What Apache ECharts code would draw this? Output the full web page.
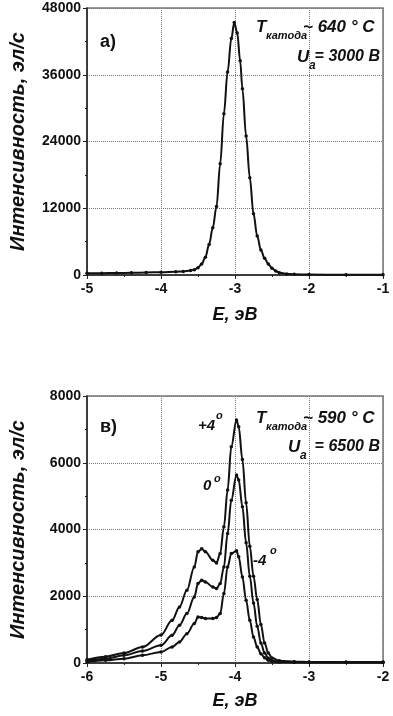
<!DOCTYPE html>
<html>
<head>
<meta charset="utf-8">
<script src="https://cdn.jsdelivr.net/npm/echarts@6/dist/echarts.min.js"></script>
<style>
  html, body { margin: 0; padding: 0; background: #fff; }
  #chart { width: 393px; height: 716px; }
</style>
</head>
<body>
<div id="chart"></div>
<script>
// panel a) - single peak
var topE = [-5, -4.8, -4.6, -4.4, -4.2, -4, -3.8, -3.7, -3.6, -3.55, -3.5, -3.45, -3.4, -3.35, -3.3,
    -3.25, -3.2, -3.15, -3.1, -3.05, -3.01, -2.97, -2.93, -2.9, -2.85, -2.8, -2.75, -2.7, -2.65,
    -2.6, -2.55, -2.5, -2.45, -2.4, -2.3, -2.2, -2, -1.5, -1];
var topI = [300, 330, 360, 400, 450, 500, 580, 650, 800, 950, 1300, 2000, 3200, 5500, 8500,
    12300, 20000, 29000, 36500, 42500, 45400, 43500, 38500, 33500, 25000, 17500, 11000, 7000, 4500,
    3000, 2000, 1200, 700, 400, 200, 120, 80, 50, 40];

// panel в) - three angles
var botE = [-6, -5.75, -5.5, -5.25, -5, -4.85, -4.75, -4.65, -4.55, -4.5, -4.45, -4.4, -4.3, -4.25,
    -4.2, -4.15, -4.1, -4.05, -3.98, -3.95, -3.9, -3.85, -3.8, -3.75, -3.7, -3.65, -3.6, -3.55,
    -3.5, -3.4, -3.2, -3.0, -2.5, -2.0];
var botP4 = [100, 190, 300, 480, 840, 1280, 1680, 2180, 2880, 3330, 3420, 3330, 3080, 3000,
    3280, 4080, 5180, 6480, 7280, 7080, 6100, 4800, 3500, 2600, 1900, 1150, 600, 300,
    150, 70, 40, 30, 25, 20];
var bot0 = [60, 130, 230, 360, 530, 830, 1130, 1480, 1980, 2380, 2480, 2430, 2280, 2230,
    2380, 2880, 3880, 4880, 5630, 5480, 4680, 3600, 2600, 1800, 1100, 600, 300, 140,
    70, 40, 30, 25, 20, 20];
var botM4 = [30, 80, 130, 230, 330, 480, 630, 880, 1180, 1380, 1360, 1330, 1330, 1360,
    1480, 2080, 2880, 3280, 3360, 3180, 2580, 1880, 1280, 780, 480, 280, 160, 80,
    50, 30, 25, 20, 20, 20];

var topYTicks = [0, 48000, 12000];
var botYTicks = [0, 8000, 2000];
var topXRange = [-5, -1];
var botXRange = [-6, -2];

var FONT = '"Liberation Sans", Arial, sans-serif';

function pairs(xs, ys) {
    return xs.map(function (x, i) { return [x, ys[i]]; });
}

function xAxisOf(idx, range) {
    return {
        type: 'value', gridIndex: idx, min: range[0], max: range[1], interval: 1,
        name: 'E, эВ', nameLocation: 'middle', nameGap: idx === 0 ? 31 : 29,
        nameTextStyle: {fontFamily: FONT, fontSize: 18, fontWeight: 'bold', fontStyle: 'italic', color: '#111'},
        axisLine: {onZero: false, lineStyle: {color: '#222', width: 1.5}},
        axisTick: {show: true, inside: false, length: 4, lineStyle: {color: '#222'}},
        minorTick: {show: true, splitNumber: 2, length: 2, lineStyle: {color: '#222'}},
        axisLabel: {margin: 7, fontFamily: FONT, fontSize: 14, fontWeight: 'bold', color: '#111',
            formatter: function (v) { return String(v); }},
        splitLine: {show: true, lineStyle: {type: 'dotted', color: '#777', width: 1}}
    };
}

function yAxisOf(idx, t) {
    return {
        type: 'value', gridIndex: idx, min: t[0], max: t[1], interval: t[2],
        name: 'Интенсивность, эл/с', nameLocation: 'middle', nameGap: 59, nameRotate: 90,
        nameTextStyle: {fontFamily: FONT, fontSize: 20, fontWeight: 'bold', fontStyle: 'italic', color: '#111'},
        axisLine: {show: true, lineStyle: {color: '#222', width: 1.5}},
        axisTick: {show: true, inside: false, length: 4, lineStyle: {color: '#222'}},
        minorTick: {show: true, splitNumber: 2, length: 2, lineStyle: {color: '#222'}},
        axisLabel: {margin: 6, fontFamily: FONT, fontSize: 14, fontWeight: 'bold', color: '#111',
            formatter: function (v) { return String(v); }},
        splitLine: {show: true, lineStyle: {type: 'dotted', color: '#777', width: 1}}
    };
}

function line(idx, data) {
    return {
        type: 'line', xAxisIndex: idx, yAxisIndex: idx, data: data,
        smooth: 0.35, smoothMonotone: 'x',
        symbol: 'circle', symbolSize: 3.5, showSymbol: true,
        lineStyle: {color: '#111', width: 2},
        itemStyle: {color: '#111'},
        animation: false
    };
}

function txt(pos, text, size, italic, bold) {
    var o = {type: 'text', top: pos.top, style: {
        text: text, fill: '#111',
        font: (italic ? 'italic ' : '') + (bold === false ? '' : 'bold ') + size + 'px ' + FONT
    }};
    if (pos.left != null) o.left = pos.left;
    if (pos.right != null) o.right = pos.right;
    return o;
}

var chart = echarts.init(document.getElementById('chart'));
chart.setOption({
    animation: false,
    backgroundColor: '#fff',
    grid: [
        {left: 77, right: 10, top: 8, height: 267, show: true, borderColor: '#777', borderWidth: 1.5},
        {left: 77, right: 10, top: 396, height: 267, show: true, borderColor: '#777', borderWidth: 1.5}
    ],
    xAxis: [xAxisOf(0, topXRange), xAxisOf(1, botXRange)],
    yAxis: [yAxisOf(0, topYTicks), yAxisOf(1, botYTicks)],
    series: [
        line(0, pairs(topE, topI)),
        line(1, pairs(botE, botP4)),
        line(1, pairs(botE, bot0)),
        line(1, pairs(botE, botM4))
    ],
    graphic: [
        txt({left: 100, top: 33}, 'а)', 18, false),
        txt({left: 256, top: 19}, 'T', 17, true),
        txt({left: 266, top: 30}, 'катода', 11, true),
        txt({left: 303, top: 19}, '~ 640 ° C', 17, true),
        txt({left: 297, top: 49}, 'U', 17, true),
        txt({left: 309, top: 60}, 'a', 12, true),
        txt({right: 13, top: 49}, '= 3000 B', 16, true),

        txt({left: 100, top: 418}, 'в)', 18, false),
        txt({left: 256, top: 410}, 'T', 17, true),
        txt({left: 266, top: 421}, 'катода', 11, true),
        txt({left: 303, top: 410}, '~ 590 ° C', 17, true),
        txt({left: 288, top: 439}, 'U', 17, true),
        txt({left: 300, top: 450}, 'a', 12, true),
        txt({right: 13, top: 439}, '= 6500 B', 16, true),

        txt({left: 198, top: 418}, '+4', 15, true),
        txt({left: 216, top: 410}, 'o', 11, true),
        txt({left: 203, top: 478}, '0', 15, true),
        txt({left: 214, top: 473}, 'o', 11, true),
        txt({left: 253, top: 553}, '-4', 15, true),
        txt({left: 270, top: 545}, 'o', 11, true)
    ]
});
</script>
</body>
</html>
